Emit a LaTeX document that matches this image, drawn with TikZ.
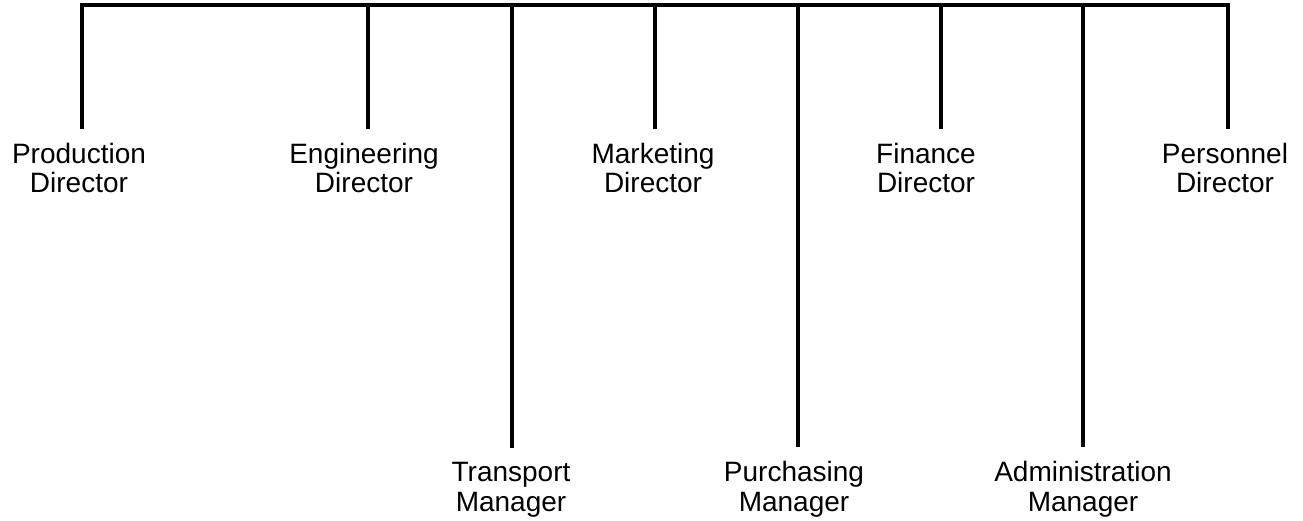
\documentclass[tikz,border=0pt]{standalone}
\usepackage{fontspec}
\setmainfont{Liberation Sans}
\begin{document}
\begin{tikzpicture}[x=1pt,y=-1pt,
  bar/.style={line width=4.8pt,line join=miter,black},
  post/.style={align=center,anchor=base,inner xsep=0pt,inner ysep=14.5pt,
    font=\fontsize{28}{29.5}\selectfont}]
\useasboundingbox (0,0) rectangle (1303,521);
% junctions on the top bar
\coordinate (b1) at (82,5);
\coordinate (b2) at (368,5);
\coordinate (b3) at (512,5);
\coordinate (b4) at (655,5);
\coordinate (b5) at (798,5);
\coordinate (b6) at (941,5);
\coordinate (b7) at (1083,5);
\coordinate (b8) at (1228,5);
% posts (placed by the baseline of their last line)
\node[post] (prod)  at (79,193)   {Production\\Director};
\node[post] (eng)   at (364,193)  {Engineering\\Director};
\node[post] (mkt)   at (653,193)  {Marketing\\Director};
\node[post] (fin)   at (926,193)  {Finance\\Director};
\node[post] (pers)  at (1225,193) {Personnel\\Director};
\node[post] (trans) at (511,511)  {Transport\\Manager};
\node[post] (purch) at (794,511)  {Purchasing\\Manager};
\node[post] (admin) at (1083,511) {Administration\\Manager};
% the bar with its two end posts
\draw[bar] (b1 |- prod.north) -- (b1) -- (b8) -- (b8 |- pers.north);
% inner posts
\draw[bar] (b2) -- (b2 |- eng.north);
\draw[bar] (b3) -- (b3 |- trans.north);
\draw[bar] (b4) -- (b4 |- mkt.north);
\draw[bar] (b5) -- (b5 |- purch.north);
\draw[bar] (b6) -- (b6 |- fin.north);
\draw[bar] (b7) -- (b7 |- admin.north);
\end{tikzpicture}
\end{document}
